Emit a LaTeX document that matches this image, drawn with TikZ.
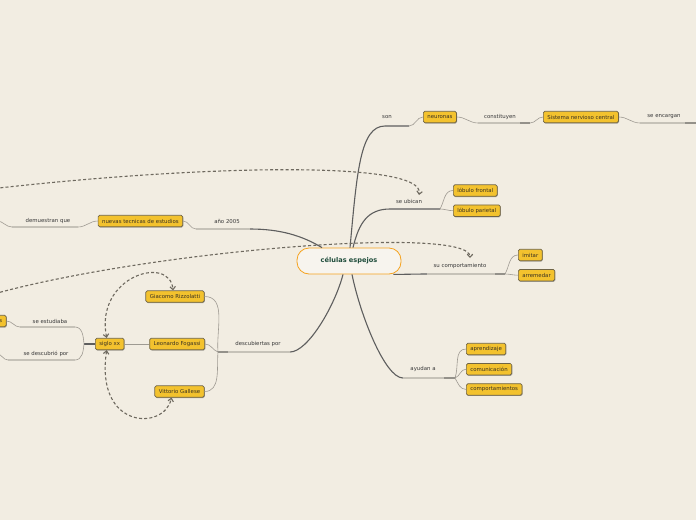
\documentclass[tikz,border=0pt]{standalone}
\usepackage{fontspec}
\setmainfont{DejaVu Sans}
\usetikzlibrary{arrows.meta,positioning,shadows}
\definecolor{paper}{HTML}{F2EDE2}
\definecolor{gold}{HTML}{F3C22E}
\definecolor{rim}{HTML}{6F6446}
\definecolor{ink}{HTML}{3A3222}
\definecolor{wire}{HTML}{5E5E5E}
\definecolor{pale}{HTML}{C6C2B8}
\definecolor{twigc}{HTML}{9E9A92}
\definecolor{tailc}{HTML}{94918A}
\definecolor{linkc}{HTML}{6E695F}
\definecolor{amber}{HTML}{F5A21E}
\definecolor{pine}{HTML}{1E4C3B}
\tikzset{topic/.style={draw=rim,fill=gold,rounded corners=1.5pt,line width=0.7pt,text=ink,
  font=\fontsize{5.4}{6}\selectfont,inner xsep=4pt,inner ysep=0pt,minimum height=11.5pt,
  drop shadow={shadow xshift=0.6pt,shadow yshift=-0.8pt,opacity=0.3,fill=black}},
  hub/.style={draw=amber,fill=paper!60!white,rounded corners=12pt,line width=0.8pt,text=pine,
  minimum width=104pt,minimum height=26pt,font=\bfseries\fontsize{6.6}{8}\selectfont},
  lbl/.style={font=\fontsize{5.4}{6}\selectfont,text=black!78,inner sep=0pt},
  trunk/.style={draw=wire,line width=1.1pt},uline/.style={draw=pale,line width=1.3pt},
  tail/.style={draw=tailc,line width=1.4pt},twig/.style={draw=twigc,line width=0.6pt},
  xlink/.style={draw=linkc,line width=1.1pt,dash pattern=on 3pt off 2.2pt,
  >={Straight Barb[length=3pt,width=5.5pt]}}}
\begin{document}
\begin{tikzpicture}[x=1pt,y=-1pt,node distance=8pt]
\clip (0,0) rectangle (696,520);
\fill[paper] (0,0) rectangle (696,520);
\node[hub] (cel) at (349,261) {células espejos};
\node[topic,anchor=west] (neu) at (423,117) {neu\raisebox{-0.8pt}{ronas}};
\node[topic,anchor=west] (snc) at (543,117) {Sistema nervioso central};
\node[topic,anchor=west] (lfr) at (453,190.5) {lóbulo frontal};
\node[topic,below=of lfr.south west,anchor=north west] (lpa) {lóbulo parietal};
\node[topic,anchor=west] (imi) at (518,255) {imitar};
\node[topic,below=of imi.south west,anchor=north west] (arr) {arremedar};
\node[topic,anchor=west] (apr) at (466,349) {aprendizaje};
\node[topic,below=of apr.south west,anchor=north west] (com) {comunicación};
\node[topic,below=of com.south west,anchor=north west] (cpt) {comportamientos};
\node[topic,anchor=east] (gia) at (204.5,296.5) {Giacomo Rizzolatti};
\node[topic,anchor=east] (leo) at (205,344) {Leonardo Fogassi};
\node[topic,anchor=east] (vit) at (204.5,391.5) {Vittorio Gallese};
\node[topic,left=25pt of leo] (sxx) {siglo xx};
\node[topic,anchor=east] (nte) at (183,221) {nuevas tecnicas de estudios};
\node[topic,anchor=east] (stu) at (6.5,321) {s};
\node[lbl] (tson) at (387,117) {son};
\node[lbl] (tcon) at (500,117) {constituyen};
\node[lbl] (tenc) at (664,117) {se encargan};
\node[lbl] (tubi) at (409,201) {se ubican};
\node[lbl] (tsco) at (460,266) {su comportamiento};
\node[lbl] (tayu) at (423,369) {ayudan a};
\node[lbl] (tdes) at (258,344) {descubiertas por};
\node[lbl] (tano) at (227,221) {año 2005};
\node[lbl] (tdem) at (48,221) {demuestran que};
\node[lbl] (test) at (50,321) {se estudiaba};
\node[lbl] (tsdp) at (46,354) {se descubrió por};
\coordinate (son1) at (385,126);\coordinate (son2) at (409,126);
\coordinate (con1) at (478,123);\coordinate (con2) at (530,123);
\coordinate (enc1) at (640,123);\coordinate (enc2) at (700,123);
\coordinate (ubi1) at (390,209);\coordinate (ubi2) at (440,209);
\coordinate (sco1) at (427,274);\coordinate (sco2) at (505,274);
\coordinate (ayu1) at (403,378);\coordinate (ayu2) at (455,378);
\coordinate (des1) at (290,352);\coordinate (des2) at (218,352);
\coordinate (ano1) at (250,229);\coordinate (ano2) at (196,229);
\coordinate (dem1) at (78,227);\coordinate (dem2) at (12,227);\coordinate (demx) at (-3,221);
\coordinate (sx0) at (84,344);
\coordinate (est1) at (75,327);\coordinate (est2) at (20,327);
\coordinate (sdp1) at (75,360);\coordinate (sdp2) at (8,360);\coordinate (sdpx) at (-3,354);
\coordinate (lk1) at (-10,189);\coordinate (a1) at (419,195);
\coordinate (lk2) at (-10,295);\coordinate (a2) at (470,258);
\draw[trunk] ([xshift=1pt]cel.north) .. controls +(7,-75) and +(-25,0) .. (son1) -- (son2);
\draw[twig] (son2) to[out=0,in=180] (neu.west);
\draw[twig] (neu.east) to[out=0,in=180] (con1);\draw[uline] (con1) -- (con2);\draw[tail] ([xshift=-10pt]con2) -- (con2);
\draw[twig] (con2) to[out=0,in=180] (snc.west);
\draw[twig] (snc.east) to[out=0,in=180] (enc1);\draw[uline] (enc1) -- (enc2);\draw[tail] ([xshift=-15pt]enc2) -- (enc2);
\draw[trunk] ([xshift=4pt]cel.north) .. controls +(6,-25) and +(-22,0) .. (ubi1) -- (ubi2);
\draw[twig] (ubi2) to[out=60,in=180] (lfr.west) (ubi2) to[out=0,in=180] (lpa.west);
\draw[trunk] ([xshift=-8pt]cel.south east) .. controls +(10,0) and +(-10,0) .. (sco1);
\draw[uline] (sco1) -- (sco2);\draw[tail] ([xshift=-10pt]sco2) -- (sco2);
\draw[twig] (sco2) to[out=60,in=180] (imi.west) (sco2) to[out=0,in=180] (arr.west);
\draw[trunk] ([xshift=3pt]cel.south) .. controls +(8,40) and +(-18,0) .. (ayu1);
\draw[uline] (ayu1) -- (ayu2);\draw[tail] ([xshift=-11pt]ayu2) -- (ayu2);
\draw[twig] (ayu2) to[out=70,in=180] (apr.west) (ayu2) to[out=20,in=180] (com.west) (ayu2) to[out=-60,in=180] (cpt.west);
\draw[trunk] ([xshift=-6pt]cel.south) .. controls +(-8,31) and +(18,0) .. (des1);
\draw[uline] (des1) -- (des2);\draw[tail] ([xshift=10pt]des2) -- (des2);
\draw[twig] (des2) to[out=95,in=0] (gia.east) (des2) to[out=160,in=0] (leo.east) (des2) to[out=-95,in=0] (vit.east);
\draw[twig] (sxx.east) -- (leo.west);
\draw[trunk] (sxx.west) -- (sx0);
\draw[twig] (sx0) to[out=95,in=0] (est1) (sx0) to[out=-95,in=0] (sdp1);
\draw[uline] (est1) -- (est2);\draw[twig] (est2) to[out=180,in=0] (stu.east);
\draw[uline] (sdp1) -- (sdp2);\draw[twig] (sdp2) to[out=180,in=0] (sdpx);
\draw[trunk] ([xshift=-27pt]cel.north) .. controls +(-20,-12) and +(30,0) .. (ano1);
\draw[uline] (ano1) -- (ano2);\draw[twig] (ano2) to[out=180,in=0] (nte.east);
\draw[twig] (nte.west) to[out=180,in=0] (dem1);\draw[uline] (dem1) -- (dem2);\draw[twig] (dem2) to[out=180,in=0] (demx);
\draw[xlink,->] (lk1) .. controls +(210,-24) and +(6,-35) .. (a1);
\draw[xlink,->] (lk2) .. controls +(160,-45) and +(0,-33) .. (a2);
\draw[xlink,<->] ([xshift=-3pt]sxx.north) .. controls +(-12,-62) and +(-3,-36) .. ([xshift=-2pt]gia.north);
\draw[xlink,<->] ([xshift=-3pt]sxx.south) .. controls +(-12,80) and +(-7,33) .. ([xshift=-8pt]vit.south);
\end{tikzpicture}
\end{document}
